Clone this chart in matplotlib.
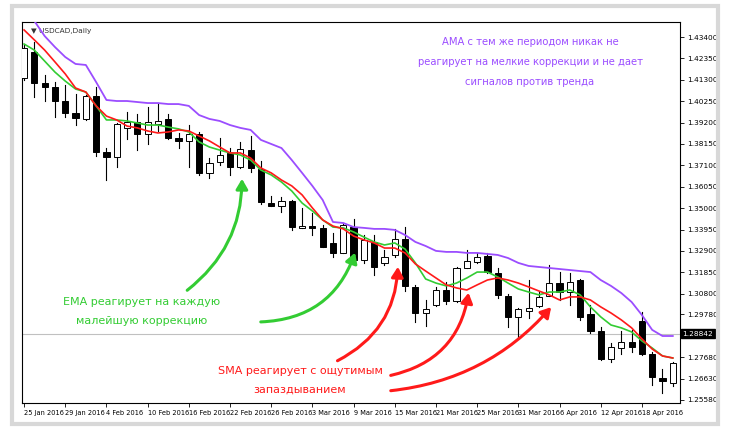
import matplotlib
matplotlib.use("Agg")
import matplotlib.pyplot as plt
from matplotlib.patches import Rectangle

opens = [1.4139,1.4267,1.4114,1.4095,1.4026,1.3967,1.3938,1.4051,1.3776,1.3751,
         1.3894,1.3923,1.3864,1.3913,1.3938,1.3844,1.3830,1.3864,1.3673,1.3727,
         1.3771,1.3702,1.3785,1.3692,1.3525,1.3511,1.3535,1.3403,1.3412,1.3403,
         1.3329,1.3280,1.3407,1.3245,1.3334,1.3231,1.3270,1.3349,1.3113,1.2985,
         1.3024,1.3098,1.3044,1.3206,1.3236,1.3265,1.3182,1.3069,1.2966,1.2995,
         1.3020,1.3069,1.3132,1.3088,1.3147,1.2980,1.2897,1.2759,1.2813,1.2843,
         1.2946,1.2784,1.2666,1.2641]
highs = [1.4301,1.4316,1.4154,1.4119,1.4105,1.4060,1.4056,1.4095,1.3795,1.3918,
         1.3972,1.3962,1.3997,1.4016,1.3962,1.3869,1.3908,1.3874,1.3746,1.3844,
         1.3795,1.3825,1.3854,1.3731,1.3560,1.3555,1.3540,1.3501,1.3476,1.3417,
         1.3378,1.3427,1.3447,1.3368,1.3368,1.3294,1.3398,1.3407,1.3123,1.3049,
         1.3113,1.3137,1.3211,1.3294,1.3280,1.3280,1.3206,1.3078,1.3010,1.3147,
         1.3088,1.3221,1.3186,1.3182,1.3152,1.3024,1.2916,1.2838,1.2897,1.2902,
         1.2990,1.2794,1.2712,1.2744]
lows = [1.4129,1.4046,1.4026,1.3948,1.3948,1.3908,1.3933,1.3756,1.3638,1.3702,
        1.3840,1.3785,1.3815,1.3879,1.3840,1.3795,1.3702,1.3663,1.3648,1.3712,
        1.3663,1.3697,1.3677,1.3520,1.3511,1.3481,1.3393,1.3403,1.3368,1.3309,
        1.3260,1.3280,1.3231,1.3231,1.3172,1.3221,1.3260,1.3093,1.2941,1.2921,
        1.3020,1.3029,1.3039,1.3206,1.3231,1.3182,1.3059,1.2916,1.2862,1.2961,
        1.3015,1.3069,1.3049,1.3024,1.2951,1.2887,1.2754,1.2745,1.2784,1.2794,
        1.2779,1.2632,1.2592,1.2627]
closes = [1.4286,1.4114,1.4095,1.4026,1.3967,1.3943,1.4051,1.3776,1.3751,1.3913,
          1.3923,1.3864,1.3923,1.3928,1.3844,1.3830,1.3864,1.3673,1.3722,1.3761,
          1.3702,1.3790,1.3697,1.3530,1.3511,1.3535,1.3407,1.3412,1.3403,1.3309,
          1.3280,1.3417,1.3245,1.3344,1.3211,1.3260,1.3349,1.3118,1.2985,1.3005,
          1.3098,1.3044,1.3206,1.3240,1.3260,1.3186,1.3074,1.2966,1.3005,1.3010,
          1.3064,1.3132,1.3088,1.3137,1.2966,1.2897,1.2759,1.2818,1.2843,1.2818,
          1.2784,1.2671,1.2651,1.2739]
ama = [1.4463,1.4419,1.4345,1.4291,1.4242,1.4208,1.4203,1.4119,1.4031,1.4026,
       1.4026,1.4021,1.4016,1.4016,1.4011,1.4011,1.4002,1.3957,1.3938,1.3928,
       1.3908,1.3894,1.3884,1.3835,1.3815,1.3795,1.3736,1.3673,1.3609,1.3540,
       1.3432,1.3427,1.3407,1.3403,1.3398,1.3398,1.3393,1.3368,1.3334,1.3314,
       1.3290,1.3285,1.3285,1.3280,1.3280,1.3275,1.3270,1.3255,1.3231,1.3216,
       1.3211,1.3206,1.3201,1.3196,1.3191,1.3186,1.3147,1.3118,1.3083,1.3039,
       1.2975,1.2902,1.2872,1.2872]
sma = [1.4375,1.4326,1.4276,1.4218,1.4159,1.4090,1.4070,1.4002,1.3952,1.3933,
       1.3903,1.3894,1.3879,1.3869,1.3874,1.3884,1.3879,1.3854,1.3830,1.3800,
       1.3771,1.3771,1.3746,1.3697,1.3673,1.3638,1.3609,1.3565,1.3501,1.3442,
       1.3412,1.3398,1.3363,1.3344,1.3329,1.3304,1.3304,1.3280,1.3226,1.3191,
       1.3157,1.3123,1.3108,1.3098,1.3123,1.3147,1.3157,1.3147,1.3132,1.3113,
       1.3093,1.3074,1.3049,1.3064,1.3064,1.3049,1.3015,1.2985,1.2951,1.2912,
       1.2858,1.2808,1.2774,1.2764]
ema = [1.4306,1.4276,1.4222,1.4168,1.4124,1.4085,1.4070,1.4002,1.3933,1.3933,
       1.3928,1.3918,1.3908,1.3908,1.3898,1.3889,1.3874,1.3825,1.3800,1.3785,
       1.3771,1.3761,1.3736,1.3687,1.3663,1.3628,1.3584,1.3525,1.3486,1.3442,
       1.3407,1.3403,1.3383,1.3358,1.3334,1.3319,1.3329,1.3299,1.3231,1.3152,
       1.3132,1.3118,1.3132,1.3157,1.3186,1.3186,1.3162,1.3132,1.3103,1.3088,
       1.3074,1.3088,1.3088,1.3098,1.3074,1.3015,1.2966,1.2926,1.2912,1.2892,
       1.2848,1.2813,1.2774,1.2764]
date_pos = [0,4,8,12,16,20,24,28,32,36,40,44,48,52,56,60]
date_labels = ["25 Jan 2016","29 Jan 2016","4 Feb 2016","10 Feb 2016","16 Feb 2016",
               "22 Feb 2016","26 Feb 2016","3 Mar 2016","9 Mar 2016","15 Mar 2016",
               "21 Mar 2016","25 Mar 2016","31 Mar 2016","6 Apr 2016","12 Apr 2016",
               "18 Apr 2016"]
price_ticks = [1.43400,1.42350,1.41300,1.40250,1.39200,1.38150,1.37100,1.36050,1.35000,
               1.33950,1.32900,1.31850,1.30800,1.29780,1.27680,1.26630,1.25580]
current_price = 1.28842

fig = plt.figure(figsize=(7.3, 4.36), dpi=100)
fig.patches.append(Rectangle((12/730, 12/436), 706/730, 418/436, transform=fig.transFigure,
                             fill=False, edgecolor="#d8d8d8", lw=3, zorder=0))
ax = fig.add_axes([22/730, 1-403/436, 658/730, 381/436])
n = len(opens)
x = list(range(n))
for i in x:
    o, h, l, c = opens[i], highs[i], lows[i], closes[i]
    ax.plot([i, i], [l, h], color="black", lw=0.8, zorder=2)
    bull = c >= o
    ax.add_patch(Rectangle((i-0.3, min(o, c)), 0.6, max(abs(c-o), 0.0002),
                           facecolor="white" if bull else "black", edgecolor="black",
                           lw=0.7, zorder=3))
ax.plot(x, ama, color="#9b4dff", lw=1.3, zorder=4)
ax.plot(x, ema, color="#33cc33", lw=1.2, zorder=4)
ax.plot(x, sma, color="#ff1a1a", lw=1.2, zorder=5)
ax.axhline(current_price, color="#c0c0c0", lw=0.8, zorder=1)

ax.set_xlim(-0.2, 63.7)
ax.set_ylim(1.2543, 1.4414)
ax.yaxis.tick_right()
ax.set_yticks(price_ticks)
ax.set_yticklabels([f"{t:.5f}" for t in price_ticks], fontsize=5.3)
ax.set_xticks(date_pos)
ax.set_xticklabels(date_labels, fontsize=4.8, ha="left")
ax.tick_params(axis="both", length=3, width=0.6, pad=2)
for s in ax.spines.values():
    s.set_linewidth(0.8)
ax.text(63.95, current_price, f"{current_price:.5f}", fontsize=5.3,
        color="white", va="center", ha="left",
        bbox=dict(facecolor="black", edgecolor="black", pad=1.2), clip_on=False)
ax.text(0.013, 0.985, "\u25bc USDCAD,Daily", transform=ax.transAxes, fontsize=5.3,
        va="top", color="#333333")

purple = "#9b4dff"
for k, s in enumerate(["AMA с тем же периодом никак не",
                       "реагирует на мелкие коррекции и не дает",
                       "сигналов против тренда"]):
    fig.text(530/730, 1-(42+20*k)/436, s, color=purple, fontsize=7.2, ha="center", va="center")
for k, s in enumerate(["EMA реагирует на каждую", "малейшую коррекцию"]):
    fig.text(142/730, 1-(302+19*k)/436, s, color="#33cc33", fontsize=8, ha="center", va="center")
for k, s in enumerate(["SMA реагирует с ощутимым", "запаздыванием"]):
    fig.text(300/730, 1-(371+19*k)/436, s, color="#ff1a1a", fontsize=8, ha="center", va="center")

def arrow(p0, p1, color, rad):
    ax.annotate("", xy=(p1[0], 436-p1[1]), xycoords="figure pixels",
                xytext=(p0[0], 436-p0[1]), textcoords="figure pixels",
                arrowprops=dict(arrowstyle="-|>,head_length=0.6,head_width=0.35",
                                color=color, lw=2.2, connectionstyle=f"arc3,rad={rad}"),
                annotation_clip=False)

arrow((185, 292), (242, 176), "#33cc33", 0.25)
arrow((258, 322), (356, 250), "#33cc33", 0.35)
arrow((335, 362), (398, 264), "#ff1a1a", 0.3)
arrow((388, 376), (469, 290), "#ff1a1a", 0.35)
arrow((388, 391), (553, 305), "#ff1a1a", 0.2)

fig.savefig("out.png", dpi=100)
